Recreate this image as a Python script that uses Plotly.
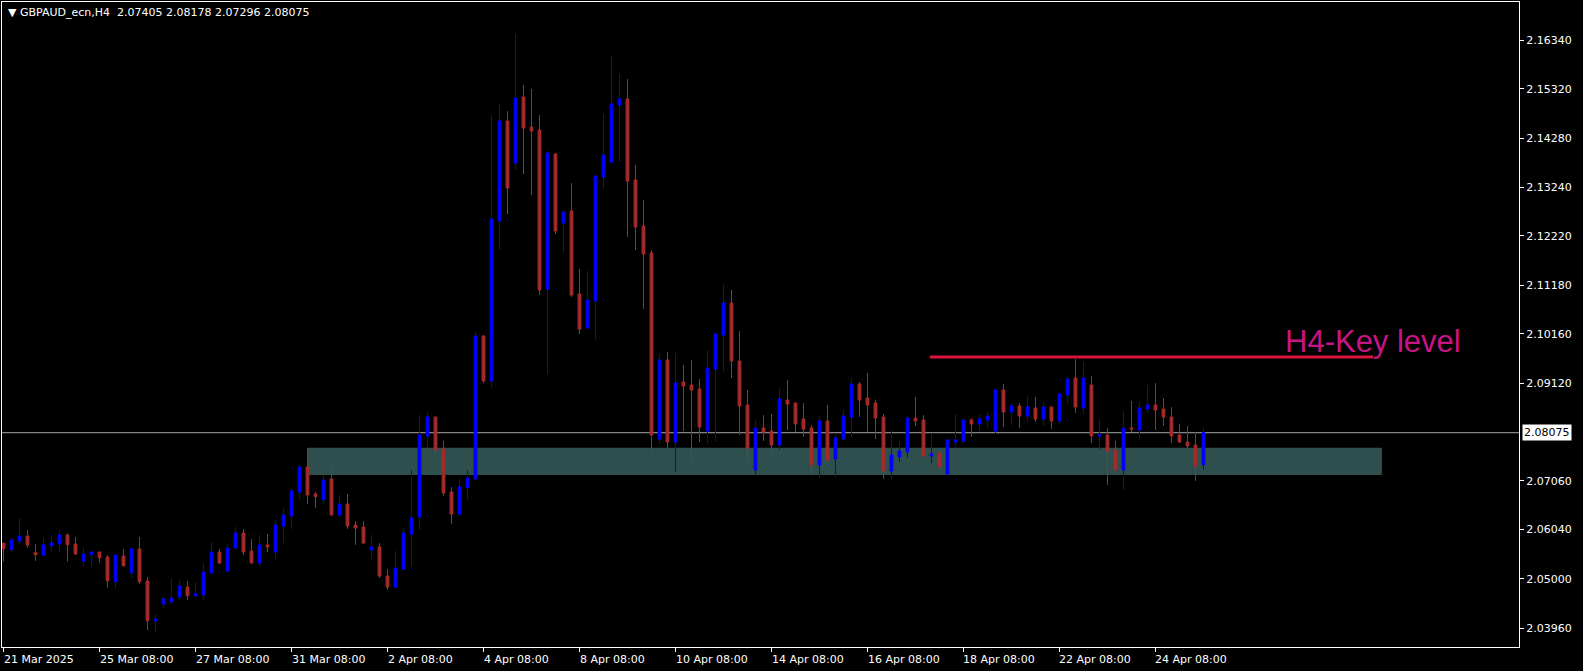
import plotly.graph_objects as go

# ---- data (GBPAUD H4) ----
opens = [2.05745, 2.05610, 2.05793, 2.05898, 2.05547, 2.05498, 2.05694, 2.05736, 2.05920, 2.05730,
         2.05372, 2.05504, 2.05561, 2.05455, 2.04936, 2.05476, 2.05126, 2.05625, 2.04951, 2.04114,
         2.04466, 2.04508, 2.04613, 2.04824, 2.04641, 2.04655, 2.05119, 2.05561, 2.05161, 2.05646,
         2.05962, 2.05583, 2.05330, 2.05709, 2.05561, 2.06109, 2.06320, 2.06826, 2.07352, 2.06784,
         2.06663, 2.07099, 2.06341, 2.06573, 2.06130, 2.06088, 2.05604, 2.05667, 2.05056, 2.04824,
         2.05204, 2.05941, 2.06299, 2.08006, 2.08406, 2.07732, 2.06826, 2.06362, 2.06917, 2.07099,
         2.10112, 2.09164, 2.12536, 2.14643, 2.13758, 2.15148, 2.14516, 2.14453, 2.11103, 2.13947,
         2.12494, 2.12746, 2.10997, 2.10281, 2.10850, 2.13463, 2.13779, 2.14980, 2.15106, 2.13399,
         2.12430, 2.11861, 2.07942, 2.09607, 2.07879, 2.09143, 2.09080, 2.08996, 2.08111, 2.09417,
         2.10133, 2.10808, 2.09586, 2.08659, 2.07289, 2.08174, 2.08111, 2.07816, 2.08764, 2.08701,
         2.08364, 2.08174, 2.07394, 2.08322, 2.07521, 2.07942, 2.08406, 2.09101, 2.08806, 2.08701,
         2.08406, 2.07268, 2.07564, 2.07669, 2.08385, 2.08343, 2.07585, 2.07648, 2.07205, 2.07879,
         2.07901, 2.08343, 2.08259, 2.08343, 2.08111, 2.08975, 2.08511, 2.08638, 2.08427, 2.08596,
         2.08364, 2.08617, 2.08322, 2.08869, 2.09228, 2.08596, 2.09080, 2.08006, 2.08027, 2.07711,
         2.07289, 2.08174, 2.08132, 2.08575, 2.08659, 2.08575, 2.08406, 2.08027, 2.07879, 2.07816,
         2.07405]
highs = [2.05760, 2.05851, 2.06284, 2.06025, 2.05730, 2.05863, 2.05898, 2.06025, 2.05955, 2.05877,
         2.05652, 2.05604, 2.05565, 2.05498, 2.05502, 2.05625, 2.05652, 2.05877, 2.05035, 2.04261,
         2.04620, 2.04999, 2.04972, 2.04951, 2.04930, 2.05330, 2.05772, 2.05625, 2.05730, 2.06088,
         2.06046, 2.05835, 2.05920, 2.05941, 2.06235, 2.06488, 2.06910, 2.07394, 2.07753, 2.06826,
         2.07184, 2.07331, 2.06763, 2.06784, 2.06214, 2.06214, 2.05920, 2.05751, 2.05204, 2.05583,
         2.06067, 2.07289, 2.08448, 2.08490, 2.08410, 2.07901, 2.06931, 2.07099, 2.07289, 2.10196,
         2.10133, 2.14769, 2.15001, 2.14853, 2.16476, 2.15401, 2.15317, 2.14769, 2.14011, 2.13968,
         2.12767, 2.13336, 2.11524, 2.11482, 2.13505, 2.14790, 2.16012, 2.15633, 2.15528, 2.13716,
         2.12978, 2.11924, 2.09733, 2.09775, 2.09754, 2.09502, 2.09607, 2.09206, 2.09817, 2.10175,
         2.11187, 2.11082, 2.10218, 2.08975, 2.08343, 2.08448, 2.08469, 2.08996, 2.09185, 2.08705,
         2.08701, 2.08237, 2.08427, 2.08659, 2.08069, 2.08553, 2.09228, 2.09143, 2.09333, 2.08764,
         2.08469, 2.08132, 2.07901, 2.08427, 2.08827, 2.08448, 2.08069, 2.07711, 2.07943, 2.08469,
         2.08385, 2.08385, 2.08469, 2.08511, 2.08996, 2.09101, 2.08701, 2.08701, 2.08848, 2.08827,
         2.08722, 2.08620, 2.08911, 2.09249, 2.09628, 2.09565, 2.09270, 2.08364, 2.08174, 2.07901,
         2.08532, 2.08743, 2.08722, 2.09080, 2.09122, 2.08806, 2.08617, 2.08259, 2.08216, 2.08090,
         2.08178]
lows = [2.05357, 2.05568, 2.05736, 2.05646, 2.05372, 2.05483, 2.05568, 2.05547, 2.05357, 2.05498,
        2.05252, 2.05252, 2.05336, 2.04810, 2.04789, 2.05252, 2.05021, 2.04894, 2.03918, 2.03876,
        2.04381, 2.04466, 2.04550, 2.04550, 2.04592, 2.04550, 2.05105, 2.05309, 2.05147, 2.05604,
        2.05498, 2.05326, 2.05267, 2.05561, 2.05414, 2.05751, 2.06046, 2.06657, 2.06573, 2.06488,
        2.06573, 2.06336, 2.06299, 2.06046, 2.05709, 2.05730, 2.05414, 2.05014, 2.04761, 2.04803,
        2.05182, 2.05252, 2.06025, 2.07753, 2.07606, 2.06742, 2.06151, 2.06341, 2.06657, 2.07078,
        2.09122, 2.09017, 2.11924, 2.12683, 2.13610, 2.13526, 2.13083, 2.10976, 2.09312, 2.12262,
        2.11861, 2.10934, 2.10154, 2.10277, 2.10049, 2.13210, 2.13775, 2.13779, 2.12198, 2.11924,
        2.10681, 2.07690, 2.07837, 2.07753, 2.07247, 2.08111, 2.07458, 2.07879, 2.07858, 2.07879,
        2.09354, 2.09228, 2.08027, 2.07521, 2.07163, 2.07901, 2.07627, 2.07711, 2.08132, 2.08090,
        2.07985, 2.07184, 2.07120, 2.07479, 2.07141, 2.07938, 2.07985, 2.08406, 2.08090, 2.07942,
        2.07099, 2.07099, 2.07458, 2.07543, 2.08216, 2.07564, 2.07437, 2.07310, 2.07200, 2.07774,
        2.07858, 2.07985, 2.08111, 2.08174, 2.08048, 2.08195, 2.08237, 2.08174, 2.08301, 2.08301,
        2.08216, 2.08153, 2.08259, 2.08680, 2.08490, 2.08469, 2.07858, 2.07732, 2.06973, 2.07285,
        2.06868, 2.08090, 2.07922, 2.08490, 2.08132, 2.08216, 2.07858, 2.07858, 2.07732, 2.07057,
        2.07296]
closes = [2.05631, 2.05814, 2.05898, 2.05709, 2.05504, 2.05709, 2.05751, 2.05920, 2.05715, 2.05519,
          2.05519, 2.05561, 2.05440, 2.04957, 2.05498, 2.05273, 2.05625, 2.04936, 2.04114, 2.04150,
          2.04571, 2.04592, 2.04845, 2.04641, 2.04683, 2.05140, 2.05561, 2.05330, 2.05646, 2.05962,
          2.05561, 2.05330, 2.05709, 2.05667, 2.06130, 2.06341, 2.06847, 2.07352, 2.06763, 2.06727,
          2.07078, 2.06341, 2.06573, 2.06109, 2.06067, 2.05751, 2.05667, 2.05056, 2.04824, 2.05225,
          2.05962, 2.06278, 2.08027, 2.08406, 2.07711, 2.06805, 2.06362, 2.06931, 2.07120, 2.10112,
          2.09164, 2.12578, 2.14643, 2.13231, 2.15127, 2.14495, 2.14432, 2.11082, 2.13968, 2.12325,
          2.12725, 2.10976, 2.10260, 2.10871, 2.13484, 2.13926, 2.15001, 2.15106, 2.13378, 2.12409,
          2.11840, 2.08027, 2.09607, 2.07879, 2.09122, 2.09059, 2.08975, 2.08195, 2.09438, 2.10154,
          2.10808, 2.09586, 2.08638, 2.07753, 2.08174, 2.08090, 2.07816, 2.08785, 2.08680, 2.08259,
          2.08153, 2.07394, 2.08322, 2.07500, 2.07964, 2.08427, 2.09101, 2.08764, 2.08659, 2.08385,
          2.07268, 2.07606, 2.07690, 2.08385, 2.08322, 2.07585, 2.07627, 2.07352, 2.07922, 2.07922,
          2.08343, 2.08259, 2.08364, 2.08427, 2.08975, 2.08511, 2.08638, 2.08427, 2.08617, 2.08364,
          2.08617, 2.08322, 2.08890, 2.09206, 2.08617, 2.09228, 2.08006, 2.08027, 2.07690, 2.07289,
          2.08174, 2.08153, 2.08596, 2.08659, 2.08553, 2.08406, 2.08006, 2.07879, 2.07795, 2.07373,
          2.08075]

date_tick_idx = [0, 12, 24, 36, 48, 60, 72, 84, 96, 108, 120, 132, 144]
date_labels = ["21 Mar 2025", "25 Mar 08:00", "27 Mar 08:00", "31 Mar 08:00", "2 Apr 08:00",
               "4 Apr 08:00", "8 Apr 08:00", "10 Apr 08:00", "14 Apr 08:00", "16 Apr 08:00",
               "18 Apr 08:00", "22 Apr 08:00", "24 Apr 08:00"]
price_ticks = [2.16340, 2.15320, 2.14280, 2.13240, 2.12220, 2.11180, 2.10160, 2.09120,
               2.07060, 2.06040, 2.05000, 2.03960]
price_tick_labels = ["%.5f" % v for v in price_ticks]

symbol_title = "GBPAUD_ecn,H4"
last_price = closes[-1]

# zone & key level (chart objects)
zone_low, zone_high = 2.07184, 2.07759
zone_x0, zone_x1 = 38, 172.3
key_level = 2.09670
key_x0, key_x1 = 115.8, 171.2
key_text = "H4-Key level"
key_text_x, key_text_y = 159.9, 2.10007

x = list(range(len(opens)))

FONT = "DejaVu Sans"
fig = go.Figure()
fig.add_trace(go.Candlestick(
    x=x, open=opens, high=highs, low=lows, close=closes,
    increasing=dict(line=dict(color="#0000FF", width=1), fillcolor="#0000FF"),
    decreasing=dict(line=dict(color="#A52A2A", width=1), fillcolor="#A52A2A"),
    whiskerwidth=0, showlegend=False, hoverinfo="skip",
))

shapes = [
    dict(type="rect", xref="x", yref="y", x0=zone_x0, x1=zone_x1, y0=zone_low, y1=zone_high,
         fillcolor="#2F4F4F", line=dict(width=0), layer="below"),
    dict(type="line", xref="paper", yref="y", x0=0, x1=1, y0=last_price, y1=last_price,
         line=dict(color="#A8A8A8", width=1), layer="below"),
    dict(type="line", xref="x", yref="y", x0=key_x0, x1=key_x1, y0=key_level, y1=key_level,
         line=dict(color="#DC143C", width=3), layer="above"),
]

annotations = [
    dict(xref="paper", yref="paper", x=0, y=1, xanchor="left", yanchor="top",
         text="\u25bc\u00a0" + symbol_title + "\u00a0\u00a0" + " ".join("%.5f" % v for v in
              [opens[-1], highs[-1], lows[-1], closes[-1]]),
         showarrow=False, font=dict(family=FONT, size=11, color="white"), xshift=4, yshift=-2),
    dict(xref="x", yref="y", x=key_text_x, y=key_text_y, xanchor="left", yanchor="middle",
         text=key_text, showarrow=False,
         font=dict(family="Liberation Sans", size=31, color="#C71585")),
    dict(xref="paper", yref="y", x=1, y=last_price, xanchor="left", yanchor="middle",
         text="%.5f" % last_price, showarrow=False, bgcolor="white",
         font=dict(family=FONT, size=11, color="black"), xshift=3, borderpad=1),
]
for i, lab in zip(date_tick_idx, date_labels):
    annotations.append(dict(xref="x", yref="paper", x=i, y=0, xanchor="left", yanchor="top",
                            text=lab, showarrow=False,
                            font=dict(family=FONT, size=11, color="white"),
                            xshift=-2, yshift=-4))

fig.update_layout(
    width=1583, height=671,
    margin=dict(l=2, r=64, t=2, b=24),
    paper_bgcolor="black", plot_bgcolor="black",
    boxgap=0.5,
    shapes=shapes, annotations=annotations,
    showlegend=False,
    xaxis=dict(range=[-0.19, 189.44], rangeslider=dict(visible=False), showgrid=False,
               zeroline=False, showline=True, linecolor="white", linewidth=1, mirror=True,
               tickmode="array", tickvals=date_tick_idx, showticklabels=False,
               ticks="outside", ticklen=4, tickcolor="white", automargin=False),
    yaxis=dict(range=[2.03560, 2.17150], side="right", showgrid=False, zeroline=False,
               showline=True, linecolor="white", linewidth=1, mirror=True,
               tickmode="array", tickvals=price_ticks, ticktext=price_tick_labels,
               ticks="outside", ticklen=4, tickcolor="white", automargin=False,
               tickfont=dict(family=FONT, size=11, color="white")),
)

fig.write_html("out.html", config={"displayModeBar": False},
               post_script="document.body.style.margin='0';document.body.style.overflow='hidden';")
